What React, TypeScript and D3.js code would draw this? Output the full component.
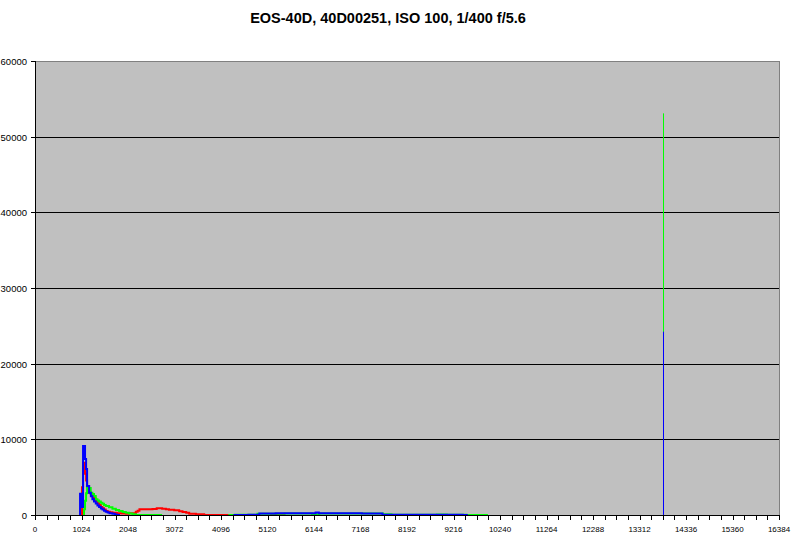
import React from 'react';
import * as d3 from 'd3';

const W = 796;
const H = 540;
const TITLE = 'EOS-40D, 40D00251, ISO 100, 1/400 f/5.6';

const xMax = 16384;
const yMax = 60000;
const yTickValues = [0, 10000, 20000, 30000, 40000, 50000, 60000];
const xLabelValues = d3.range(0, xMax + 1, 1024);
const xMinorValues = d3.range(0, xMax + 1, 256);

// Red channel histogram (DN bin start, pixel count)
const redDN = [1000, 1036, 1058, 1102, 1125, 1147, 1191, 1227, 1264, 1300, 1338, 1375, 1411, 1450, 1485, 1520, 1558, 1600, 1650, 1705, 1800, 1900, 2000, 2073, 2220, 2260, 2300, 2367, 2450, 2587, 2680, 2734, 2800, 2882, 2950, 3065, 3175, 3249, 3330, 3396, 3543, 3726, 4278, 5200, 5490];
const redCount = [0, 3800, 7050, 5600, 4700, 3900, 3080, 2900, 2640, 2300, 1980, 1700, 1450, 1200, 1010, 850, 660, 560, 480, 440, 380, 330, 300, 350, 570, 700, 880, 880, 900, 940, 1010, 1010, 950, 880, 840, 750, 620, 530, 440, 300, 220, 130, 0, 180, 0];

// Green channel histogram
const greenDN = [1058, 1080, 1102, 1125, 1147, 1191, 1227, 1264, 1300, 1338, 1375, 1411, 1450, 1485, 1520, 1558, 1630, 1705, 1780, 1852, 1930, 2000, 2073, 2146, 2220, 2778, 4278, 4400, 4900, 5500, 6100, 6260, 6500, 7000, 7660, 7850, 8200, 8850, 9070, 9500, 9953];
const greenCount = [0, 900, 2000, 3000, 3950, 3700, 3080, 2900, 2640, 2200, 2050, 1900, 1750, 1630, 1470, 1320, 1150, 970, 800, 660, 540, 440, 330, 220, 130, 0, 130, 160, 300, 330, 220, 330, 340, 330, 220, 170, 150, 200, 150, 130, 0];

// Blue channel histogram
const blueDN = [960, 992, 1036, 1058, 1102, 1125, 1147, 1191, 1230, 1264, 1300, 1338, 1375, 1411, 1450, 1485, 1520, 1558, 1600, 1640, 1705, 1760, 1800, 1850, 4390, 4700, 4940, 5300, 5670, 6000, 6180, 6250, 6860, 7200, 7650, 8200, 8800, 9420, 9511];
const blueCount = [0, 2950, 1200, 9250, 7540, 6200, 3970, 3080, 2600, 2200, 1900, 1650, 1400, 1200, 1000, 850, 700, 560, 450, 380, 300, 200, 120, 0, 130, 150, 330, 350, 360, 380, 450, 370, 350, 320, 180, 160, 150, 120, 0];

// Saturation spike (white level)
const spikeDN = 13830;
const spikeGreen = 53080;
const spikeBlue = 24225;

const FONT = '"Liberation Sans", Arial, sans-serif';

export default function App() {
  const left = 35;
  const right = 779;
  const top = 61;
  const bottom = 515;

  const x = d3.scaleLinear().domain([0, xMax]).range([left, right]);
  const y = d3.scaleLinear().domain([0, yMax]).range([bottom, top]);

  const toPairs = (a: number[], b: number[]) => a.map((d, i) => [d, b[i]] as [number, number]);

  const stepLine = d3
    .line<[number, number]>()
    .x((d) => x(d[0]))
    .y((d) => y(d[1]) + 1)
    .curve(d3.curveStepAfter);

  const spikeLine = d3
    .line<[number, number]>()
    .x((d) => Math.round(x(d[0])) + 0.5)
    .y((d) => y(d[1]));

  const series = [
    { name: 'red', color: '#FF0000', data: toPairs(redDN, redCount) },
    { name: 'green', color: '#00FF00', data: toPairs(greenDN, greenCount) },
    { name: 'blue', color: '#0000FF', data: toPairs(blueDN, blueCount) },
  ];

  const spikes = [
    { color: '#00FF00', v: spikeGreen },
    { color: '#0000FF', v: spikeBlue },
  ];

  const crisp = (v: number) => Math.round(v) + 0.5;

  return (
    <svg
      width={W}
      height={H}
      style={{ position: 'absolute', left: 0, top: 0, background: '#FFFFFF' }}
      fontFamily={FONT}
    >
      <defs>
        <clipPath id="plotClip">
          <rect x={left} y={top} width={right - left} height={bottom - top} />
        </clipPath>
      </defs>
      <rect x={0} y={0} width={W} height={H} fill="#FFFFFF" />
      <text x={388} y={23} textAnchor="middle" fontSize={14.5} fontWeight="bold" fill="#000">
        {TITLE}
      </text>

      <rect x={left} y={top} width={right - left + 1} height={bottom - top + 1} fill="#C0C0C0" />

      {yTickValues
        .filter((v) => v > 0 && v < yMax)
        .map((v) => (
          <line key={'g' + v} x1={left} x2={right + 1} y1={crisp(y(v))} y2={crisp(y(v))} stroke="#000" strokeWidth={1} />
        ))}

      <line x1={left} x2={right + 1} y1={crisp(top)} y2={crisp(top)} stroke="#808080" />
      <line x1={crisp(right)} x2={crisp(right)} y1={top} y2={bottom + 1} stroke="#808080" />

      <g clipPath="url(#plotClip)">
        {series.map((s) => (
          <path key={s.name} d={stepLine(s.data) || ''} fill="none" stroke={s.color} strokeWidth={2} />
        ))}
      </g>
      {spikes.map((s, i) => (
        <path
          key={'s' + i}
          d={spikeLine([[spikeDN, 0], [spikeDN, s.v]]) || ''}
          fill="none"
          stroke={s.color}
          strokeWidth={1}
        />
      ))}

      {/* axes */}
      <line x1={crisp(left)} x2={crisp(left)} y1={top} y2={bottom + 1} stroke="#000" />
      <line x1={left} x2={right + 1} y1={crisp(bottom)} y2={crisp(bottom)} stroke="#000" />

      {yTickValues.map((v) => (
        <g key={'yt' + v}>
          <line x1={left - 4} x2={left} y1={crisp(y(v))} y2={crisp(y(v))} stroke="#000" />
          <text x={27} y={Math.round(y(v)) + 4} textAnchor="end" fontSize={9.5} fill="#000">
            {v}
          </text>
        </g>
      ))}

      {xMinorValues.map((v) => (
        <line key={'xt' + v} x1={crisp(x(v))} x2={crisp(x(v))} y1={bottom} y2={bottom + 5} stroke="#000" />
      ))}
      {xLabelValues.map((v) => (
        <text key={'xl' + v} x={x(v)} y={532} textAnchor="middle" fontSize={8} fill="#000">
          {v}
        </text>
      ))}
    </svg>
  );
}
